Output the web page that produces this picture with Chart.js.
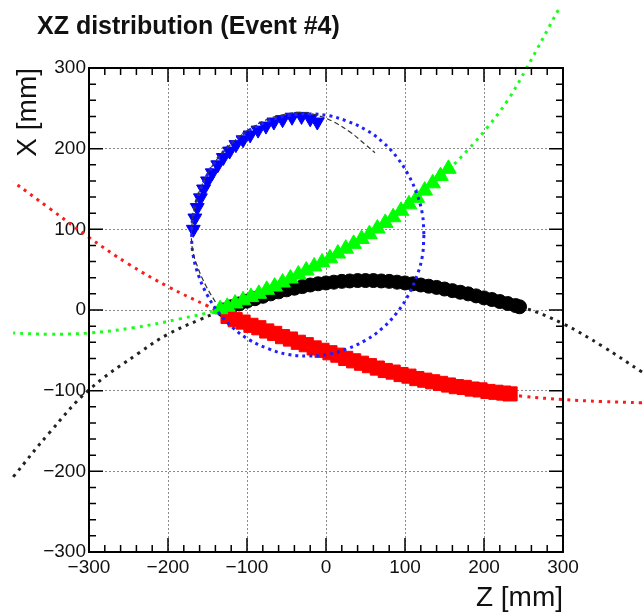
<!DOCTYPE html>
<html>
<head>
<meta charset="utf-8">
<title>XZ distribution (Event #4)</title>
<script src="https://cdn.jsdelivr.net/npm/chart.js@4.4.0/dist/chart.umd.min.js"></script>
<style>
  html, body { margin: 0; padding: 0; background: #fff; }
  #wrap { width: 644px; height: 615px; }
</style>
</head>
<body>
<div id="wrap"><canvas id="xzChart" width="644" height="615"></canvas></div>
<script>
  const chartTitle = "XZ distribution (Event #4)";
  const xTitle = "Z [mm]";
  const yTitle = "X [mm]";

  // axis ticks, same on both axes
  const axisTicks = [-300, -200, -100, 0, 100, 200, 300];
  const tickLabels = ["\u2212300", "\u2212200", "\u2212100", "0", "100", "200", "300"];

  // red track (squares) + fit
  const redZ = [-124, -115, -105, -95, -85, -75, -65, -55, -45, -35, -25, -15, -5, 5, 15, 25, 35, 45, 55, 65,
    75, 85, 95, 105, 115, 125, 135, 145, 155, 165, 175, 185, 195, 205, 215, 225, 233];
  const redX = [-8, -12, -15, -19, -22, -26, -29, -33, -36, -40, -43, -47, -50, -53, -56, -60, -63, -66, -69, -72,
    -75, -77, -80, -82, -85, -87, -89, -91, -93, -95, -96, -98, -99, -101, -102, -103, -104];
  const redFitZ = [-396, -350, -300, -250, -200, -150, -125, -100, -50, 0, 50, 100, 150, 200, 250, 300, 350, 400];
  const redFitX = [159, 126, 90, 57, 29, 5, -7, -16, -35, -52, -68, -82, -93, -101, -107, -111, -113.5, -115];

  // black track (circles) + fit
  const blackZ = [-130, -120, -110, -100, -90, -80, -70, -60, -50, -40, -30, -20, -10, 0, 10, 20, 30, 40, 50, 60,
    70, 80, 90, 100, 110, 120, 130, 140, 150, 160, 170, 180, 190, 200, 210, 220, 230, 240, 245];
  const blackX = [0, 4, 7.5, 11, 14, 17, 20, 22.5, 25, 27, 29, 31, 32.5, 33.5, 34.5, 35.5, 36, 36.5, 36.5, 36.5,
    36, 35.5, 34.5, 33.5, 32.5, 31, 29.5, 28, 26, 24, 22, 20, 17.5, 15, 13, 10.5, 8, 5.5, 4];
  const blackFitZ = [-396, -350, -300, -235, -200, -160, -130, -100, -50, 0, 50, 100, 150, 200, 250, 300, 350, 400];
  const blackFitX = [-207, -152, -99, -52, -30, -12, 0, 11, 25, 33.5, 36.5, 33.5, 26, 15, 3, -17, -45, -77];

  // green track (triangles up) + fit
  const greenZ = [-134, -125, -115, -105, -95, -85, -75, -65, -55, -45, -35, -25, -15, -5, 5, 15, 25, 35, 45, 55,
    65, 75, 85, 95, 105, 115, 125, 135, 145, 155];
  const greenX = [1, 4, 8, 12, 16, 20, 25, 29, 34, 39, 44, 49, 54, 59, 64, 70, 76, 82, 88, 94,
    101, 108, 115, 123, 131, 139, 148, 157, 166, 175];
  const greenFitZ = [-396, -350, -300, -244, -185, -134, -100, -50, 0, 50, 100, 155, 180, 204, 230, 254, 294];
  const greenFitX = [-28.5, -30, -28.5, -22, -11, 1, 15, 37, 61, 91, 127, 174, 199, 226, 260, 300, 372];

  // blue track (triangles down) + circle
  const blueZ = [-168, -166, -163, -159, -155, -150, -144, -137, -130, -122, -114, -105, -96, -86, -76, -66, -55, -43, -31, -20, -11];
  const blueX = [100, 114, 127, 139, 150, 160, 170, 180, 189, 197, 205, 211, 217, 223, 228, 233, 236, 239, 240, 237, 233];
  const blueCircZ = [124, 122, 115, 104, 90, 72, 51, 27, 3, -23, -49, -73, -97, -118, -136, -150, -161, -168, -170,
    -168, -161, -150, -136, -118, -97, -73, -49, -23, 3, 27, 51, 72, 90, 104, 115, 122, 124];
  const blueCircX = [93, 119, 144, 168, 189, 208, 223, 234, 241, 243, 241, 234, 223, 208, 189, 168, 144, 119, 93,
    67, 42, 18, -3, -22, -37, -48, -55, -57, -55, -48, -37, -22, -3, 18, 42, 67, 93];

  // thin grey dashed arc
  const grayZ = [-140, -152, -162, -169, -170, -166, -157, -143, -124, -100, -75, -50, -30, -10, 10, 30, 50, 62];
  const grayX = [10, 30, 52, 75, 100, 128, 155, 180, 202, 222, 236, 243, 245, 241, 233, 221, 205, 195];

  const pts = (zs, xs) => zs.map((z, i) => ({ x: z, y: xs[i] }));

  function markers(label, zs, xs, color, style, radius, rotation, order) {
    return {
      label: label,
      data: pts(zs, xs),
      showLine: false,
      pointStyle: style,
      pointRadius: radius,
      pointRotation: rotation,
      pointBackgroundColor: color,
      pointBorderColor: color,
      pointBorderWidth: 1,
      order: order,
    };
  }

  // fits run right to left so chart.js keeps the points beyond the axis range
  function dotted(label, zs, xs, color, width, dash, order) {
    return {
      label: label,
      data: pts(zs, xs).reverse(),
      showLine: true,
      pointRadius: 0,
      borderColor: color,
      borderWidth: width,
      borderDash: dash,
      tension: 0.4,
      fill: false,
      clip: false,
      order: order,
    };
  }

  // ROOT style frame with ticks on the inside
  const rootFrame = {
    id: "rootFrame",
    afterDatasetsDraw(chart) {
      const { ctx, chartArea: a, scales } = chart;
      const sx = scales.x, sy = scales.y;
      ctx.save();
      ctx.strokeStyle = "#000";
      ctx.lineWidth = 1.5;
      ctx.beginPath();
      for (let v = -300; v <= 300; v += 20) {
        const len = v % 100 === 0 ? 14 : 7;
        const px = sx.getPixelForValue(v);
        const py = sy.getPixelForValue(v);
        ctx.moveTo(px, a.bottom); ctx.lineTo(px, a.bottom - len);
        ctx.moveTo(px, a.top); ctx.lineTo(px, a.top + len);
        ctx.moveTo(a.left, py); ctx.lineTo(a.left + len, py);
        ctx.moveTo(a.right, py); ctx.lineTo(a.right - len, py);
      }
      ctx.stroke();
      ctx.lineWidth = 2;
      ctx.strokeRect(a.left, a.top, a.right - a.left, a.bottom - a.top);

      ctx.fillStyle = "#111";
      ctx.font = 'bold 25px "Liberation Sans", Arial, sans-serif';
      ctx.textAlign = "left";
      ctx.textBaseline = "alphabetic";
      ctx.fillText(chartTitle, 37, 34);
      ctx.restore();
    },
  };

  const tickFont = { family: '"Liberation Sans", Arial, sans-serif', size: 19 };
  const titleFont = { family: '"Liberation Sans", Arial, sans-serif', size: 28 };

  const ctx = document.getElementById("xzChart").getContext("2d");
  const xzChart = new Chart(ctx, {
    type: "scatter",
    data: {
      datasets: [
        dotted("Circle", blueCircZ, blueCircX, "#1f1fff", 3, [3, 4], 1),
        markers("Blue", blueZ, blueX, "#0000ff", "triangle", 8, 180, 2),
        {
          label: "Arc",
          data: pts(grayZ, grayX),
          showLine: true,
          pointRadius: 0,
          borderColor: "#333",
          borderWidth: 1.2,
          borderDash: [5, 3],
          tension: 0.4,
          clip: false,
          order: 0,
        },
        markers("Green", greenZ, greenX, "#00ff00", "triangle", 9, 0, 3),
        markers("Red", redZ, redX, "#ff0000", "rect", 10, 0, 4),
        markers("Black", blackZ, blackX, "#000000", "circle", 7, 0, 5),
        dotted("Red fit", redFitZ, redFitX, "#ff1a1a", 3, [3, 5], 6),
        dotted("Black fit", blackFitZ, blackFitX, "#222222", 3, [3, 5], 7),
        dotted("Green fit", greenFitZ, greenFitX, "#1aff1a", 3, [3, 5], 8),
      ],
    },
    options: {
      responsive: false,
      animation: false,
      events: [],
      layout: { padding: { left: 0, top: 68, right: 81, bottom: 0 } },
      plugins: {
        legend: { display: false },
        tooltip: { enabled: false },
        title: { display: false },
      },
      scales: {
        x: {
          type: "linear",
          min: -300,
          max: 300,
          afterBuildTicks: (axis) => { axis.ticks = axisTicks.map((v) => ({ value: v })); },
          afterFit: (axis) => { axis.height = 63; },
          ticks: {
            color: "#111",
            font: tickFont,
            padding: 4,
            maxRotation: 0,
            callback: (v, i) => tickLabels[i],
          },
          grid: { color: "#8a8a8a", lineWidth: 1, drawTicks: false },
          border: { display: false, dash: [2, 2] },
          title: { display: true, text: xTitle, align: "end", color: "#111", font: titleFont, padding: { top: 0, bottom: 0 } },
        },
        y: {
          type: "linear",
          min: -300,
          max: 300,
          afterBuildTicks: (axis) => { axis.ticks = axisTicks.map((v) => ({ value: v })); },
          afterFit: (axis) => { axis.width = 89; },
          ticks: {
            color: "#111",
            font: tickFont,
            padding: 3,
            callback: (v, i) => tickLabels[i],
          },
          grid: { color: "#8a8a8a", lineWidth: 1, drawTicks: false },
          border: { display: false, dash: [2, 2] },
          title: { display: true, text: yTitle, align: "end", color: "#111", font: titleFont, padding: { top: 11, bottom: 0 } },
        },
      },
    },
    plugins: [rootFrame],
  });
</script>
</body>
</html>
